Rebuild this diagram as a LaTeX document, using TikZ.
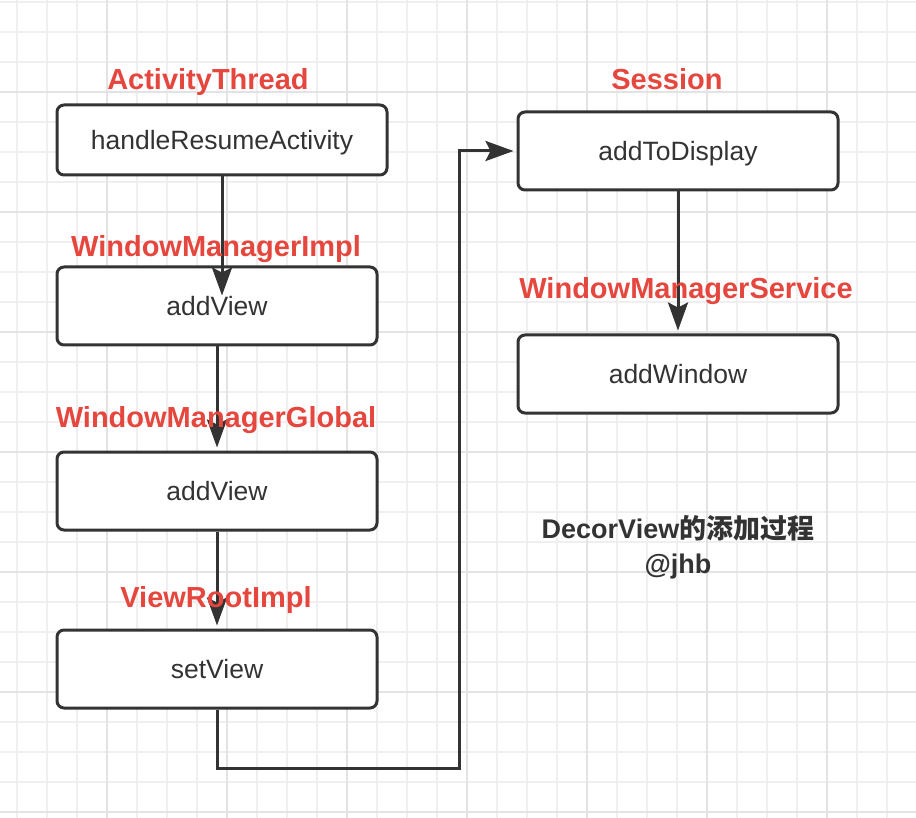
\documentclass[tikz,border=0pt]{standalone}
\usepackage{fontspec}
\usepackage{xcolor}
\usetikzlibrary{arrows.meta}
\setmainfont{Liberation Sans}
\newfontfamily\cjk{Noto Sans CJK SC}
\definecolor{ink}{HTML}{333333}
\definecolor{classred}{HTML}{E5463D}
\definecolor{gridminor}{HTML}{EFEFEF}
\definecolor{gridmajor}{HTML}{E3E3E3}
\tikzset{
  fnbox/.style={draw=ink, fill=white, line width=3pt, rounded corners=7pt,
    minimum width=320pt, minimum height=78pt, text=ink,
    text height=19pt, text depth=0pt, font=\fontsize{26.5}{30}\selectfont},
  classname/.style={anchor=base, text=classred, inner sep=0pt,
    font=\fontsize{29}{33}\selectfont\bfseries},
  flow/.style={draw=ink, line width=3pt,
    -{Stealth[length=28pt, width=20pt, inset=5pt]}, shorten >=3pt}
}
\begin{document}
\begin{tikzpicture}[x=1pt, y=-1pt]
        \useasboundingbox (0,0) rectangle (916,818);
        % Raster im Hintergrund
        \foreach \x in {17,47,...,917}
            \draw[gridminor, line width=1.3pt] (\x,0) -- (\x,818);
        \foreach \y in {2,32,...,818}
            \draw[gridminor, line width=1.3pt] (0,\y) -- (916,\y);
        \foreach \x in {107,227,...,917}
            \draw[gridmajor, line width=1.8pt] (\x,0) -- (\x,818);
        \foreach \y in {92,212,...,818}
            \draw[gridmajor, line width=1.8pt] (0,\y) -- (916,\y);

        % Methoden
        \node[fnbox, minimum width=330pt, minimum height=70pt] (hra) at (222,140) {handleResumeActivity};
        \node[fnbox] (av1) at (217,306) {addView};
        \node[fnbox] (av2) at (217,491) {addView};
        \node[fnbox] (sv) at (217,669) {setView};
        \node[fnbox] (atd) at (678,151) {addToDisplay};
        \node[fnbox] (aw) at (678,374) {addWindow};

        % Pfeile zwischen den Aufrufen
        \draw[flow, shorten >=-30pt] (hra.south) -- (hra.south |- av1.north);
        \draw[flow] (av1.south) -- (av2.north);
        \draw[flow] (av2.south) -- (sv.north);
        \coordinate (turn) at (459,768);
        \draw[flow] (sv.south) |- (turn) |- (atd.west);
        \draw[flow] (atd.south) -- (aw.north);

        % Klassennamen
        \node[classname] (lat) at (208,90) {ActivityThread};
        \node[classname] (lwmi) at (216,257) {WindowManagerImpl};
        \node[classname] (lwmg) at (216,428) {WindowManagerGlobal};
        \node[classname] (lvri) at (216,607) {ViewRootImpl};
        \node[classname] (lses) at (667,90) {Session};
        \node[classname] (lwms) at (686,299) {WindowManagerService};

        % Titel
        \node[anchor=base, text=ink, inner sep=0pt, font=\fontsize{27}{31}\selectfont\bfseries] (title) at (678,538) {DecorView{\cjk 的添加过程}};
        \node[anchor=base, text=ink, inner sep=0pt, font=\fontsize{27}{31}\selectfont\bfseries] (author) at (678,573) {@jhb};
\end{tikzpicture}
\end{document}
